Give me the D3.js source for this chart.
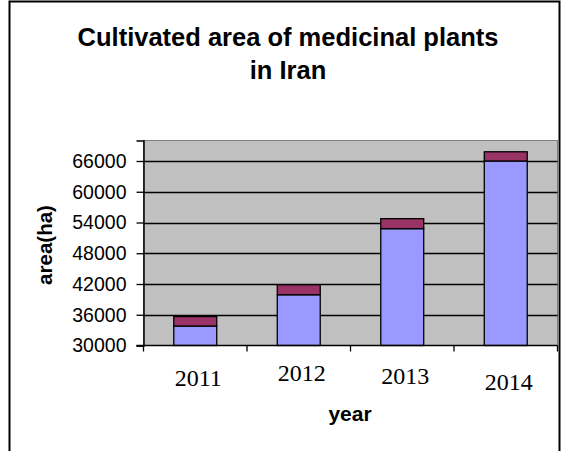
<!DOCTYPE html>
<html>
<head>
<meta charset="utf-8">
<script src="https://cdn.jsdelivr.net/npm/d3@7"></script>
<style>
  body { margin: 0; background: #fff; }
</style>
</head>
<body>
<svg id="chart" width="561" height="451"></svg>
<script>
// values
var years = ["2011", "2012", "2013", "2014"];
var lowerArea = [33800, 39900, 52800, 66000];   // blue part
var upperArea = [1850, 1950, 1950, 1800];       // dark red cap on top
var yTicks = [30000, 36000, 42000, 48000, 54000, 60000, 66000];
var yMin = 30000, yMax = 70000;

// small vertical nudges of the year labels, as in the original
var yearShift = [0, -5, -2, 4];

var svg = d3.select("#chart"),
    width = +svg.attr("width"),
    height = +svg.attr("height");

var plot = {left: 143.5, right: 557.5, top: 140.5, bottom: 345.5};

// outer chart border
svg.append("rect")
    .attr("x", 9.5).attr("y", 1.5)
    .attr("width", 550).attr("height", 460)
    .attr("fill", "#fff")
    .attr("stroke", "#000")
    .attr("stroke-width", 2);

// title
svg.append("text")
    .attr("x", 288).attr("y", 46)
    .attr("text-anchor", "middle")
    .attr("font-family", "Liberation Sans, Arial, sans-serif")
    .attr("font-weight", "bold")
    .attr("font-size", 25.5)
    .text("Cultivated area of medicinal plants");
svg.append("text")
    .attr("x", 288).attr("y", 79)
    .attr("text-anchor", "middle")
    .attr("font-family", "Liberation Sans, Arial, sans-serif")
    .attr("font-weight", "bold")
    .attr("font-size", 25.5)
    .text("in Iran");

var x = d3.scaleBand()
    .domain(years)
    .range([plot.left, plot.right])
    .paddingInner(0.585)
    .paddingOuter(0.2925);

var y = d3.scaleLinear()
    .domain([yMin, yMax])
    .range([plot.bottom, plot.top]);

// plot area
svg.append("rect")
    .attr("x", plot.left).attr("y", plot.top)
    .attr("width", plot.right - plot.left)
    .attr("height", plot.bottom - plot.top)
    .attr("fill", "#c0c0c0")
    .attr("stroke", "#808080")
    .attr("stroke-width", 1);

// gridlines
svg.append("g")
  .selectAll("line")
  .data(yTicks.slice(1))
  .enter().append("line")
    .attr("x1", plot.left).attr("x2", plot.right)
    .attr("y1", function(d) { return Math.round(y(d)) + 0.5; })
    .attr("y2", function(d) { return Math.round(y(d)) + 0.5; })
    .attr("stroke", "#000")
    .attr("stroke-width", 1.3);

// stacked bars
var stacked = years.map(function(yr, i) {
  return {year: yr, low: lowerArea[i], high: lowerArea[i] + upperArea[i]};
});

var bars = svg.append("g");
bars.selectAll(".low")
  .data(stacked)
  .enter().append("rect")
    .attr("class", "low")
    .attr("x", function(d) { return x(d.year); })
    .attr("width", x.bandwidth())
    .attr("y", function(d) { return y(d.low); })
    .attr("height", function(d) { return y(yMin) - y(d.low); })
    .attr("fill", "#9999ff")
    .attr("stroke", "#000")
    .attr("stroke-width", 1.3);
bars.selectAll(".high")
  .data(stacked)
  .enter().append("rect")
    .attr("class", "high")
    .attr("x", function(d) { return x(d.year); })
    .attr("width", x.bandwidth())
    .attr("y", function(d) { return y(d.high); })
    .attr("height", function(d) { return y(d.low) - y(d.high); })
    .attr("fill", "#993366")
    .attr("stroke", "#000")
    .attr("stroke-width", 1.3);

// y axis
var yAxis = svg.append("g")
    .attr("transform", "translate(" + plot.left + ",0)")
    .call(d3.axisLeft(y).tickValues(yTicks).tickSize(7).tickPadding(10).tickFormat(d3.format("d")));
yAxis.select(".domain").attr("stroke", "#000").attr("stroke-width", 1.5);
yAxis.selectAll(".tick line").attr("stroke", "#000").attr("stroke-width", 1.3);
yAxis.selectAll(".tick text")
    .attr("font-family", "Liberation Sans, Arial, sans-serif")
    .attr("font-size", 19.5)
    .attr("fill", "#000");

// x axis: ticks on category boundaries
var bounds = years.map(function(yr) { return x(yr) - x.step() * x.paddingInner() / 2; });
bounds.push(plot.right);
var xAxis = svg.append("g");
xAxis.append("line")
    .attr("x1", plot.left - 7).attr("x2", plot.right)
    .attr("y1", plot.bottom).attr("y2", plot.bottom)
    .attr("stroke", "#000").attr("stroke-width", 1.5);
xAxis.selectAll(".tk")
  .data(bounds)
  .enter().append("line")
    .attr("class", "tk")
    .attr("x1", function(d) { return d; }).attr("x2", function(d) { return d; })
    .attr("y1", plot.bottom).attr("y2", plot.bottom + 6)
    .attr("stroke", "#000").attr("stroke-width", 1.3);
xAxis.selectAll(".lbl")
  .data(years)
  .enter().append("text")
    .attr("class", "lbl")
    .attr("x", function(d) { return x(d) + x.bandwidth() / 2 + 3; })
    .attr("y", function(d, i) { return 386 + yearShift[i]; })
    .attr("text-anchor", "middle")
    .attr("font-family", "Liberation Serif, Times New Roman, serif")
    .attr("font-size", 24)
    .text(function(d) { return d; });

// axis titles
svg.append("text")
    .attr("x", 350).attr("y", 421)
    .attr("text-anchor", "middle")
    .attr("font-family", "Liberation Sans, Arial, sans-serif")
    .attr("font-weight", "bold")
    .attr("font-size", 21)
    .text("year");
svg.append("text")
    .attr("transform", "translate(52,245) rotate(-90)")
    .attr("text-anchor", "middle")
    .attr("font-family", "Liberation Sans, Arial, sans-serif")
    .attr("font-weight", "bold")
    .attr("font-size", 20.5)
    .text("area(ha)");
</script>
</body>
</html>
